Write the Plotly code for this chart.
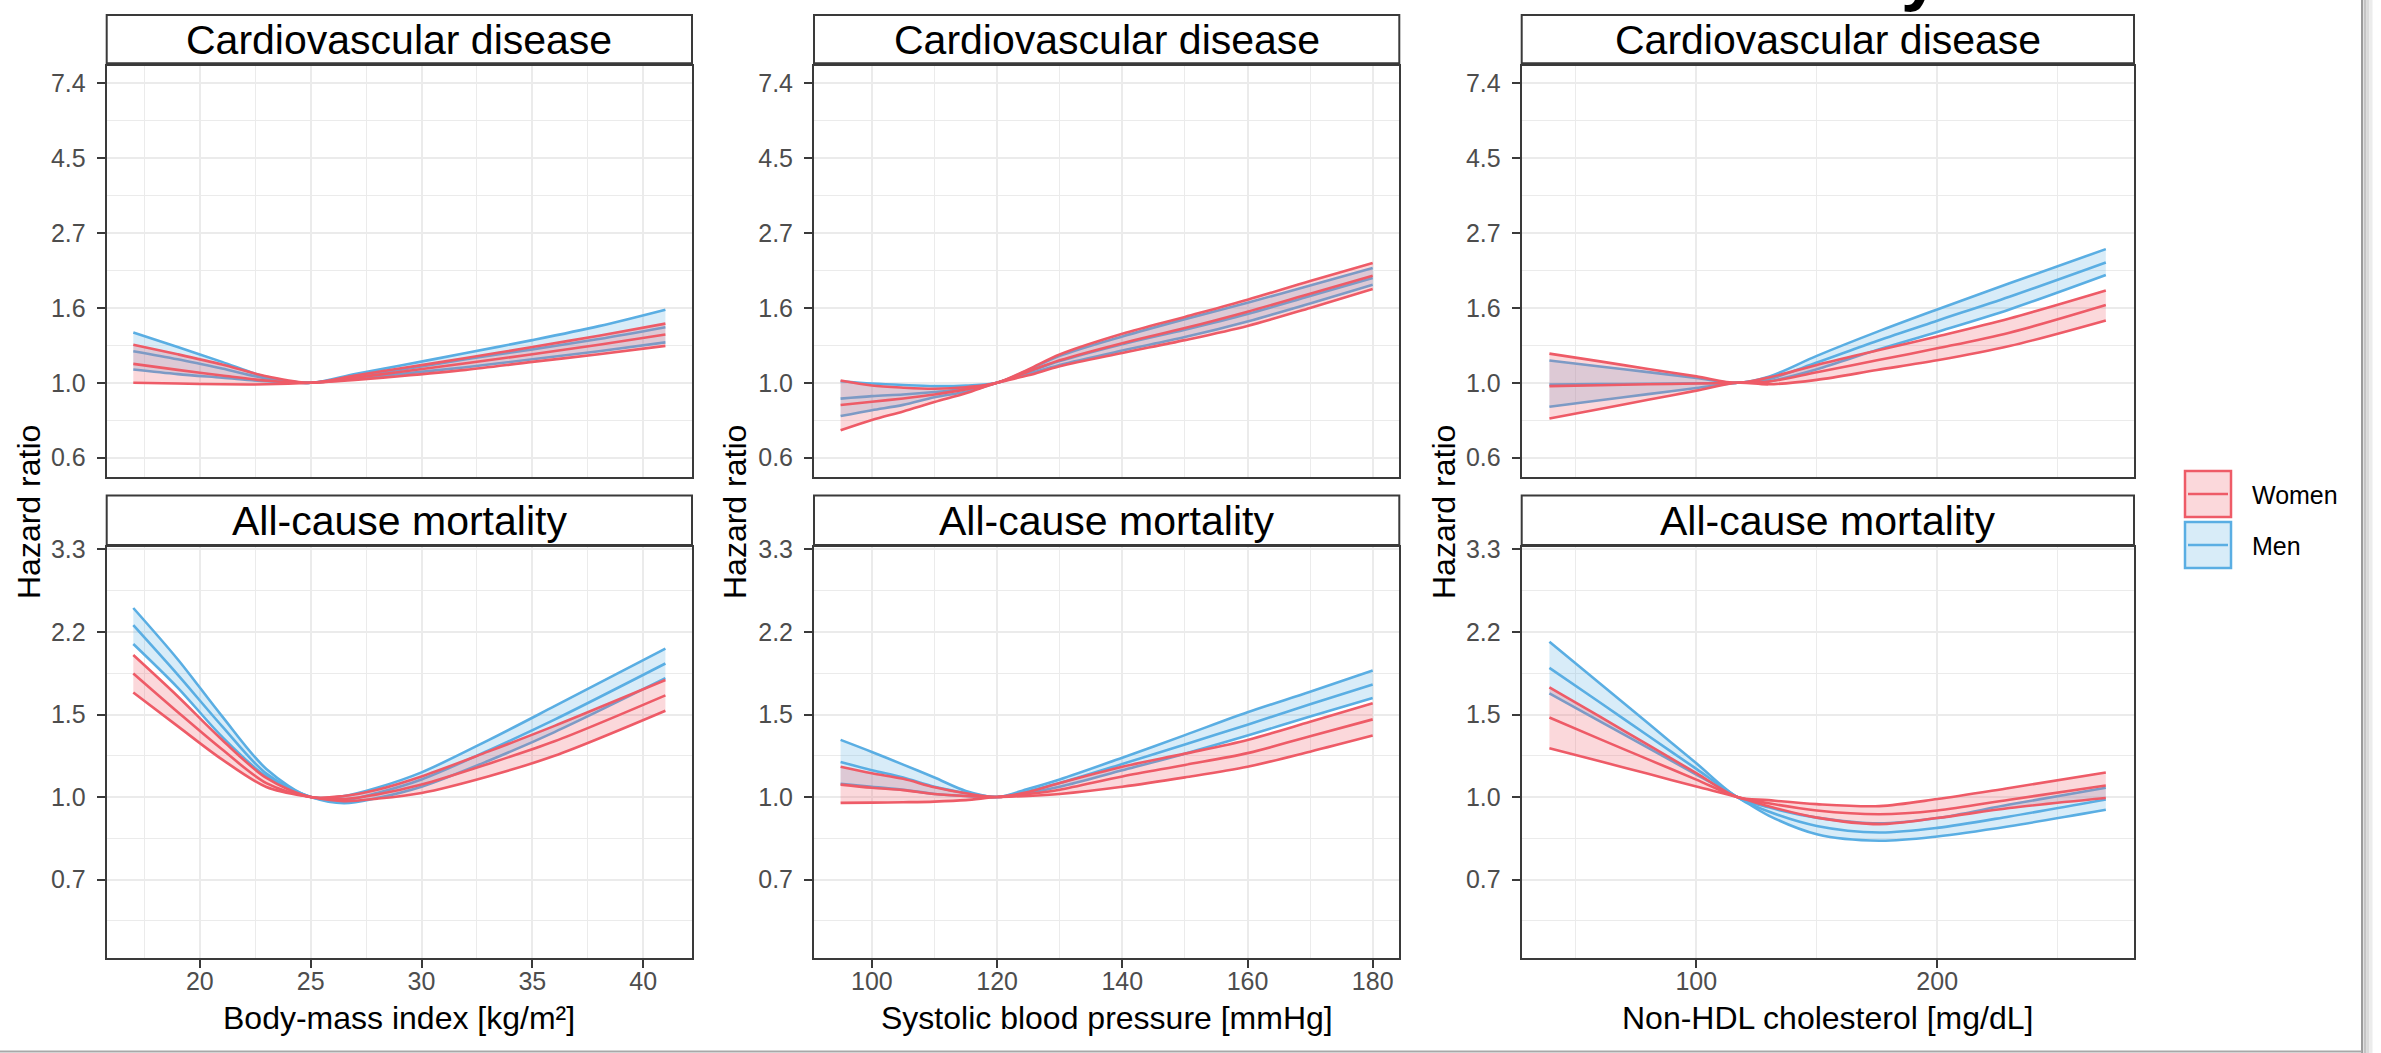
import math
import plotly.graph_objects as go

W, H = 2381, 1053
FONT = "Liberation Sans, Arial, sans-serif"

# ---------------- data (hazard ratios) ----------------
# Column 1: Body-mass index
bmi_cvd_x = [17, 19, 21, 23, 25, 27, 29, 32, 35, 38, 41]
bmi_cvd_women_lo = [1.00, 0.995, 0.99, 0.99, 1.00, 1.02, 1.045, 1.09, 1.15, 1.21, 1.28]
bmi_cvd_women_mid = [1.135, 1.09, 1.05, 1.015, 1.00, 1.035, 1.075, 1.14, 1.21, 1.29, 1.38]
bmi_cvd_women_hi = [1.29, 1.21, 1.13, 1.045, 1.00, 1.05, 1.10, 1.18, 1.27, 1.37, 1.485]
bmi_cvd_men_lo = [1.093, 1.06, 1.035, 1.01, 1.00, 1.03, 1.06, 1.11, 1.17, 1.235, 1.31]
bmi_cvd_men_mid = [1.235, 1.17, 1.10, 1.03, 1.00, 1.045, 1.09, 1.17, 1.25, 1.34, 1.45]
bmi_cvd_men_hi = [1.40, 1.27, 1.15, 1.04, 1.00, 1.06, 1.12, 1.22, 1.33, 1.46, 1.63]

bmi_mort_x = [17, 19, 21, 23, 25, 26.5, 28, 30, 33, 36, 41]
bmi_mort_women_lo = [1.66, 1.41, 1.20, 1.05, 1.00, 0.980, 0.992, 1.020, 1.105, 1.221, 1.519]
bmi_mort_women_mid = [1.82, 1.51, 1.26, 1.07, 1.00, 0.990, 1.012, 1.062, 1.174, 1.310, 1.637]
bmi_mort_women_hi = [1.99, 1.63, 1.32, 1.097, 1.00, 1.005, 1.036, 1.105, 1.246, 1.412, 1.763]
bmi_mort_men_lo = [2.10, 1.70, 1.34, 1.105, 1.00, 0.970, 0.995, 1.051, 1.191, 1.370, 1.779]
bmi_mort_men_mid = [2.30, 1.81, 1.41, 1.12, 1.00, 0.985, 1.020, 1.089, 1.252, 1.455, 1.910]
bmi_mort_men_hi = [2.50, 1.95, 1.48, 1.146, 1.00, 1.005, 1.046, 1.127, 1.316, 1.553, 2.054]

# Column 2: Systolic blood pressure
sbp_x = [95, 100, 105, 110, 115, 120, 125, 130, 140, 150, 160, 170, 180]
sbp_cvd_women_lo = [0.728, 0.780, 0.826, 0.879, 0.932, 1.0, 1.051, 1.117, 1.221, 1.330, 1.462, 1.649, 1.872]
sbp_cvd_women_mid = [0.862, 0.881, 0.901, 0.925, 0.957, 1.0, 1.078, 1.162, 1.303, 1.441, 1.608, 1.813, 2.044]
sbp_cvd_women_hi = [1.015, 0.982, 0.968, 0.961, 0.971, 1.0, 1.094, 1.208, 1.387, 1.553, 1.742, 1.974, 2.226]
sbp_cvd_men_lo = [0.801, 0.833, 0.863, 0.908, 0.942, 1.0, 1.062, 1.127, 1.240, 1.357, 1.507, 1.699, 1.925]
sbp_cvd_men_mid = [0.900, 0.915, 0.925, 0.940, 0.961, 1.0, 1.075, 1.156, 1.294, 1.426, 1.584, 1.786, 2.014]
sbp_cvd_men_hi = [1.010, 0.995, 0.985, 0.978, 0.982, 1.0, 1.089, 1.197, 1.363, 1.530, 1.707, 1.916, 2.153]

sbp_mort_women_lo = [0.972, 0.973, 0.975, 0.978, 0.985, 1.0, 1.005, 1.015, 1.051, 1.100, 1.158, 1.246, 1.347]
sbp_mort_women_mid = [1.062, 1.046, 1.034, 1.015, 1.005, 1.0, 1.015, 1.036, 1.105, 1.168, 1.237, 1.343, 1.457]
sbp_mort_women_hi = [1.158, 1.122, 1.092, 1.048, 1.018, 1.0, 1.025, 1.070, 1.158, 1.234, 1.319, 1.440, 1.575]
sbp_mort_men_lo = [1.066, 1.051, 1.036, 1.015, 1.005, 1.0, 1.020, 1.051, 1.138, 1.234, 1.347, 1.477, 1.616]
sbp_mort_men_mid = [1.185, 1.139, 1.099, 1.051, 1.020, 1.0, 1.030, 1.070, 1.174, 1.290, 1.420, 1.568, 1.726]
sbp_mort_men_hi = [1.319, 1.244, 1.170, 1.099, 1.030, 1.0, 1.041, 1.089, 1.210, 1.350, 1.508, 1.665, 1.846]

# Column 3: Non-HDL cholesterol
hdl_cvd_x = [39, 60, 80, 100, 117, 130, 150, 175, 200, 230, 270]
hdl_cvd_women_lo = [0.788, 0.840, 0.893, 0.949, 1.0, 0.990, 1.020, 1.089, 1.162, 1.278, 1.517]
hdl_cvd_women_mid = [0.978, 0.984, 0.990, 0.995, 1.0, 1.008, 1.073, 1.162, 1.259, 1.398, 1.682]
hdl_cvd_women_hi = [1.215, 1.154, 1.096, 1.044, 1.0, 1.036, 1.127, 1.240, 1.363, 1.537, 1.853]
hdl_cvd_men_lo = [0.852, 0.890, 0.927, 0.966, 1.0, 1.010, 1.094, 1.246, 1.405, 1.632, 2.054]
hdl_cvd_men_mid = [0.988, 0.991, 0.994, 0.997, 1.0, 1.025, 1.145, 1.323, 1.514, 1.777, 2.234]
hdl_cvd_men_hi = [1.161, 1.115, 1.074, 1.033, 1.0, 1.041, 1.197, 1.405, 1.632, 1.944, 2.442]

hdl_mort_x = [39, 60, 80, 100, 117, 130, 150, 176, 200, 230, 270]
hdl_mort_women_lo = [1.266, 1.189, 1.119, 1.052, 1.0, 0.956, 0.905, 0.877, 0.903, 0.948, 0.995]
hdl_mort_women_mid = [1.470, 1.324, 1.200, 1.088, 1.0, 0.970, 0.937, 0.920, 0.937, 0.987, 1.057]
hdl_mort_women_hi = [1.702, 1.476, 1.287, 1.123, 1.0, 0.985, 0.966, 0.957, 0.990, 1.045, 1.126]
hdl_mort_men_lo = [1.652, 1.443, 1.269, 1.115, 1.0, 0.914, 0.835, 0.809, 0.826, 0.868, 0.940]
hdl_mort_men_mid = [1.870, 1.581, 1.346, 1.146, 1.0, 0.932, 0.869, 0.842, 0.861, 0.910, 0.988]
hdl_mort_men_hi = [2.123, 1.733, 1.429, 1.178, 1.0, 0.951, 0.905, 0.880, 0.903, 0.964, 1.046]

# Labels
strip_labels = ["Cardiovascular disease", "All-cause mortality"]
x_titles = ["Body-mass index [kg/m\u00b2]", "Systolic blood pressure [mmHg]", "Non-HDL cholesterol [mg/dL]"]
y_title = "Hazard ratio"
legend_labels = ["Women", "Men"]
x_tick_vals = [[20, 25, 30, 35, 40], [100, 120, 140, 160, 180], [100, 200]]
x_minor_vals = [[17.5, 22.5, 27.5, 32.5, 37.5], [110, 130, 150, 170], [50, 150, 250]]
y_tick_text_top = ["0.6", "1.0", "1.6", "2.7", "4.5", "7.4"]
y_tick_text_bot = ["0.7", "1.0", "1.5", "2.2", "3.3"]

# ---------------- styling / layout geometry ----------------
WOMEN_LINE = "#EE5B67"
WOMEN_FILL = "rgba(238,91,103,0.24)"
MEN_LINE = "#5AAEE3"
MEN_FILL = "rgba(90,174,227,0.24)"
LW = 2.6
BORDER = "#3a3a3a"
GRID = "#EBEBEB"

col_px = [(106.7, 692.0), (814.0, 1399.3), (1521.7, 2134.0)]
row_px = [(65.5, 477.3), (547.0, 957.7)]
strip_px = [(15.0, 63.3), (495.5, 545.0)]
x_ranges = [[15.8, 42.2], [90.75, 184.25], [27.5, 281.7]]
y_log_ranges = [[-0.631, 2.119], [-0.779, 1.212]]  # natural-log units
y_tick_logs = [[-0.5, 0, 0.5, 1.0, 1.5, 2.0], [-0.4, 0, 0.4, 0.8, 1.2]]
y_minor_logs = [[-0.25, 0.25, 0.75, 1.25, 1.75], [-0.6, -0.2, 0.2, 0.6, 1.0]]
ytitle_x_px = [29, 735, 1444]


def fx(px):
    return px / W


def fy(py):
    return 1 - py / H


panels = [
    (0, 0, bmi_cvd_x, (bmi_cvd_women_lo, bmi_cvd_women_mid, bmi_cvd_women_hi),
     (bmi_cvd_men_lo, bmi_cvd_men_mid, bmi_cvd_men_hi)),
    (0, 1, sbp_x, (sbp_cvd_women_lo, sbp_cvd_women_mid, sbp_cvd_women_hi),
     (sbp_cvd_men_lo, sbp_cvd_men_mid, sbp_cvd_men_hi)),
    (0, 2, hdl_cvd_x, (hdl_cvd_women_lo, hdl_cvd_women_mid, hdl_cvd_women_hi),
     (hdl_cvd_men_lo, hdl_cvd_men_mid, hdl_cvd_men_hi)),
    (1, 0, bmi_mort_x, (bmi_mort_women_lo, bmi_mort_women_mid, bmi_mort_women_hi),
     (bmi_mort_men_lo, bmi_mort_men_mid, bmi_mort_men_hi)),
    (1, 1, sbp_x, (sbp_mort_women_lo, sbp_mort_women_mid, sbp_mort_women_hi),
     (sbp_mort_men_lo, sbp_mort_men_mid, sbp_mort_men_hi)),
    (1, 2, hdl_mort_x, (hdl_mort_women_lo, hdl_mort_women_mid, hdl_mort_women_hi),
     (hdl_mort_men_lo, hdl_mort_men_mid, hdl_mort_men_hi)),
]

fig = go.Figure()
layout = {}
shapes = []
annotations = []

for idx, (r, c, xs, women, men) in enumerate(panels):
    n = idx + 1
    xa = "x" if n == 1 else f"x{n}"
    ya = "y" if n == 1 else f"y{n}"
    xkey = "xaxis" if n == 1 else f"xaxis{n}"
    ykey = "yaxis" if n == 1 else f"yaxis{n}"

    for vals, lc, fc in ((men, MEN_LINE, MEN_FILL), (women, WOMEN_LINE, WOMEN_FILL)):
        lo, mid, hi = vals
        line = dict(color=lc, width=LW, shape="spline", smoothing=0.9)
        fig.add_trace(go.Scatter(x=xs, y=lo, mode="lines", line=line, xaxis=xa, yaxis=ya,
                                 showlegend=False, hoverinfo="skip"))
        fig.add_trace(go.Scatter(x=xs, y=hi, mode="lines", line=line, fill="tonexty",
                                 fillcolor=fc, xaxis=xa, yaxis=ya,
                                 showlegend=False, hoverinfo="skip"))
        fig.add_trace(go.Scatter(x=xs, y=mid, mode="lines", line=line, xaxis=xa, yaxis=ya,
                                 showlegend=False, hoverinfo="skip"))

    x0, x1 = col_px[c]
    y0, y1 = row_px[r]
    common = dict(showline=True, mirror=True, linecolor=BORDER, linewidth=2,
                  showgrid=True, gridcolor=GRID, gridwidth=2.2, zeroline=False,
                  tickcolor=BORDER, tickwidth=2, ticklen=8, automargin=False,
                  tickfont=dict(family=FONT, size=25, color="#4D4D4D"), fixedrange=True)
    xa_cfg = dict(common, domain=[fx(x0), fx(x1)], anchor=ya, range=x_ranges[c],
                  tickmode="array", tickvals=x_tick_vals[c],
                  minor=dict(tickvals=x_minor_vals[c], showgrid=True, gridcolor=GRID,
                             gridwidth=1.3, ticks=""))
    if r == 0:
        xa_cfg.update(showticklabels=False, ticks="")
    else:
        xa_cfg.update(ticks="outside", ticklabelstandoff=-8)
    layout[xkey] = xa_cfg

    tl = y_tick_logs[r]
    layout[ykey] = dict(common, domain=[fy(y1), fy(y0)], anchor=xa, type="log",
                        range=[v / math.log(10) for v in y_log_ranges[r]],
                        tickmode="array", tickvals=[math.exp(v) for v in tl],
                        ticktext=y_tick_text_top if r == 0 else y_tick_text_bot,
                        ticks="outside", ticklabelstandoff=6,
                        minor=dict(tickvals=[math.exp(v) for v in y_minor_logs[r]],
                                   showgrid=True, gridcolor=GRID, gridwidth=1.3, ticks=""))

    # dashed reference line at HR = 1
    shapes.append(dict(type="line", xref=f"{xa} domain", yref=ya, x0=0, x1=1, y0=0, y1=0,
                       line=dict(color="black", width=3, dash="14px,8px"), layer="above"))

    # facet strip
    s0, s1 = strip_px[r]
    shapes.append(dict(type="rect", xref="paper", yref="paper", x0=fx(x0), x1=fx(x1),
                       y0=fy(s1), y1=fy(s0), fillcolor="white",
                       line=dict(color=BORDER, width=2), layer="above"))
    annotations.append(dict(text=strip_labels[r], xref="paper", yref="paper",
                            x=fx((x0 + x1) / 2), y=fy((s0 + s1) / 2 + 1),
                            xanchor="center", yanchor="middle", showarrow=False,
                            font=dict(family=FONT, size=41, color="black")))

# axis titles
for c in range(3):
    x0, x1 = col_px[c]
    annotations.append(dict(text=x_titles[c], xref="paper", yref="paper",
                            x=fx((x0 + x1) / 2), y=fy(1018), xanchor="center", yanchor="middle",
                            showarrow=False, font=dict(family=FONT, size=32, color="black")))
    annotations.append(dict(text=y_title, xref="paper", yref="paper", textangle=-90,
                            x=fx(ytitle_x_px[c]), y=fy(512), xanchor="center", yanchor="middle",
                            showarrow=False, font=dict(family=FONT, size=32, color="black")))

# legend (drawn manually to reproduce the ggplot key boxes)
legend_items = [(legend_labels[0], WOMEN_LINE, WOMEN_FILL, 470), (legend_labels[1], MEN_LINE, MEN_FILL, 521)]
for label, lc, fc, top in legend_items:
    shapes.append(dict(type="rect", xref="paper", yref="paper", x0=fx(2185), x1=fx(2231),
                       y0=fy(top + 47), y1=fy(top + 1), fillcolor=fc,
                       line=dict(color=lc, width=2.5)))
    shapes.append(dict(type="line", xref="paper", yref="paper", x0=fx(2188), x1=fx(2228),
                       y0=fy(top + 24), y1=fy(top + 24), line=dict(color=lc, width=2.5)))
    annotations.append(dict(text=label, xref="paper", yref="paper", x=fx(2250), y=fy(top + 25),
                            xanchor="left", yanchor="middle", showarrow=False,
                            font=dict(family=FONT, size=25, color="black")))

# cut-off figure title fragment at the very top
annotations.append(dict(text="<b>y</b>", xref="paper", yref="paper", x=fx(1920), y=fy(14.5),
                        xanchor="center", yanchor="bottom", showarrow=False,
                        font=dict(family=FONT, size=70, color="black")))

# page edge / shadow
shapes.append(dict(type="line", xref="paper", yref="paper", x0=fx(2362), x1=fx(2362), y0=0, y1=1,
                   line=dict(color="#9a9a9a", width=2)))
for off, col in ((3, "#c4c4c4"), (6, "#dadada"), (9, "#ececec")):
    shapes.append(dict(type="line", xref="paper", yref="paper", x0=fx(2362 + off), x1=fx(2362 + off),
                       y0=0, y1=1, line=dict(color=col, width=3)))
shapes.append(dict(type="line", xref="paper", yref="paper", x0=0, x1=fx(2362), y0=fy(1051.5),
                   y1=fy(1051.5), line=dict(color="#a8a8a8", width=2)))

fig.update_layout(
    template="none",
    width=W, height=H, margin=dict(l=0, r=0, t=0, b=0, pad=0, autoexpand=False),
    paper_bgcolor="white", plot_bgcolor="white",
    showlegend=False, shapes=shapes, annotations=annotations,
    font=dict(family=FONT),
    **layout,
)

fig.write_html(
    "out.html",
    config={"displayModeBar": False},
    post_script="document.body.style.margin='0px';document.body.style.overflow='hidden';",
)
